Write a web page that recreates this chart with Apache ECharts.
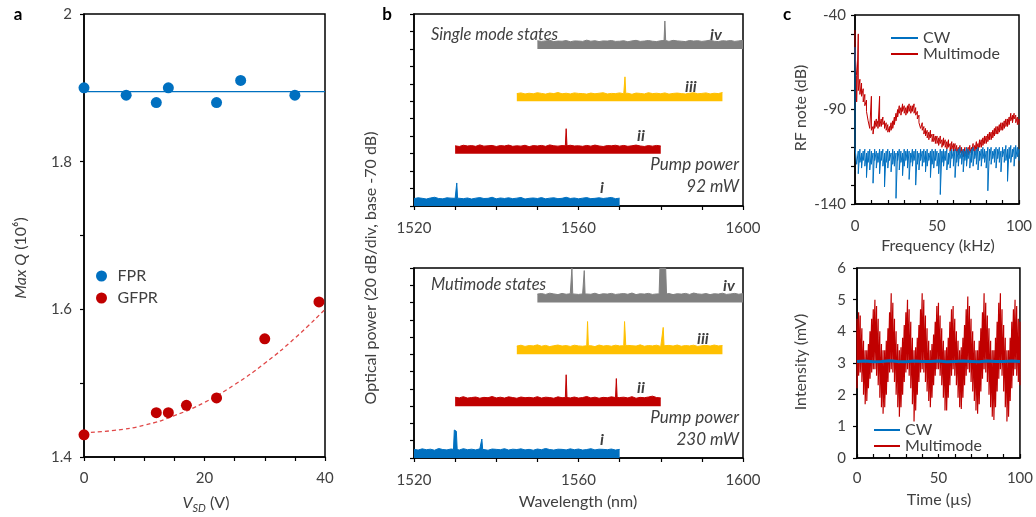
<!DOCTYPE html>
<html><head><meta charset="utf-8">
<script src="https://cdn.jsdelivr.net/npm/echarts@6/dist/echarts.min.js"></script>
<style>html,body{margin:0;padding:0;background:#fff}#c{width:1036px;height:517px}</style>
</head><body><div id="c"></div>
<script>
const FONT = 'Lato, "Noto Sans", sans-serif';
const TXT = '#404040';
// ---------- Panel a ----------
const fprV = [0, 7, 12, 14, 22, 26, 35];
const fprQ = [1.90, 1.89, 1.88, 1.90, 1.88, 1.91, 1.89];
const fprFitV = [0, 40];
const fprFitQ = [1.895, 1.895];
const gfprV = [0, 12, 14, 17, 22, 30, 39];
const gfprQ = [1.43, 1.46, 1.46, 1.47, 1.48, 1.56, 1.61];
const gfprFitV = [0, 5, 10, 15, 20, 25, 30, 35, 40];
const gfprFitQ = [1.433, 1.436, 1.443, 1.456, 1.474, 1.498, 1.527, 1.561, 1.60];

// ---------- Panel b ----------
const specColors = ['#0070C0', '#C00000', '#FFC000', '#808080'];
const specOffsets = [0, 3, 6, 9];
const specRanges = [[1520, 1570], [1530, 1580], [1545, 1595], [1550, 1600]];
const specNames = ['i', 'ii', 'iii', 'iv'];
const smI = [0.42,0.47,0.44,0.40,0.46,0.50,0.43,0.41,0.47,0.45,0.44,0.49,0.42,0.46,0.40,0.45,0.48,0.43,0.44,0.50,0.41,0.46,0.43,0.47,0.42,0.45,0.49,0.40,0.44,0.46,0.43,0.48,0.41,0.45,0.47,0.42,0.44,0.50,0.43,0.46,0.41,0.45,0.48,0.42,0.44,0.47,0.43,0.46,0.49,0.42,0.45];
const smII = [0.45,0.41,0.48,0.44,0.46,0.42,0.50,0.43,0.45,0.47,0.41,0.46,0.44,0.49,0.42,0.45,0.43,0.48,0.40,0.46,0.44,0.47,0.42,0.50,0.45,0.43,0.46,0.41,0.48,0.44,0.45,0.42,0.47,0.43,0.49,0.44,0.41,0.46,0.45,0.48,0.43,0.47,0.42,0.45,0.49,0.44,0.41,0.46,0.43,0.47,0.44];
const smIII = [0.44,0.48,0.42,0.46,0.43,0.49,0.45,0.41,0.47,0.44,0.50,0.43,0.46,0.42,0.48,0.45,0.44,0.41,0.47,0.43,0.46,0.49,0.42,0.45,0.44,0.48,0.43,0.46,0.40,0.47,0.45,0.42,0.49,0.44,0.46,0.43,0.48,0.41,0.45,0.47,0.44,0.42,0.46,0.49,0.43,0.45,0.48,0.42,0.46,0.44,0.50];
const smIV = [0.47,0.43,0.46,0.49,0.42,0.45,0.44,0.48,0.41,0.46,0.45,0.43,0.50,0.44,0.47,0.42,0.46,0.45,0.48,0.43,0.44,0.47,0.41,0.46,0.49,0.43,0.45,0.48,0.44,0.42,0.47,0.45,0.43,0.49,0.46,0.44,0.42,0.48,0.45,0.47,0.43,0.46,0.50,0.44,0.42,0.47,0.45,0.48,0.43,0.46,0.49];
const smPeaks = [
  [[[1530.2,0.45],[1530.4,1.32],[1530.6,0.45]]],
  [[[1556.8,0.45],[1557.0,1.43],[1557.2,0.45]]],
  [[[1571.1,0.45],[1571.3,1.40],[1571.5,0.45]]],
  [[[1580.8,0.48],[1581.0,1.60],[1581.2,0.48]]]
];
const mmI = [0.50,0.46,0.53,0.48,0.51,0.45,0.55,0.49,0.47,0.52,0.50,0.46,0.54,0.48,0.51,0.47,0.53,0.49,0.45,0.52,0.50,0.48,0.54,0.46,0.51,0.49,0.53,0.47,0.50,0.45,0.52,0.48,0.55,0.49,0.46,0.51,0.50,0.47,0.53,0.48,0.52,0.46,0.49,0.54,0.47,0.51,0.50,0.48,0.52,0.46,0.50];
const mmII = [0.52,0.48,0.55,0.47,0.50,0.53,0.46,0.51,0.49,0.56,0.48,0.52,0.47,0.54,0.50,0.46,0.53,0.49,0.51,0.48,0.55,0.47,0.52,0.50,0.46,0.54,0.49,0.51,0.48,0.53,0.47,0.50,0.56,0.48,0.52,0.46,0.51,0.49,0.54,0.47,0.50,0.52,0.48,0.55,0.46,0.51,0.49,0.53,0.58,0.50,0.48];
const mmIII = [0.48,0.53,0.46,0.51,0.49,0.55,0.47,0.52,0.45,0.50,0.54,0.48,0.51,0.46,0.53,0.49,0.47,0.52,0.50,0.45,0.54,0.48,0.51,0.47,0.53,0.49,0.46,0.52,0.50,0.48,0.55,0.47,0.51,0.49,0.53,0.46,0.50,0.52,0.48,0.54,0.47,0.51,0.49,0.53,0.46,0.50,0.52,0.48,0.54,0.49,0.51];
const mmIV = [0.49,0.52,0.47,0.54,0.50,0.46,0.53,0.48,0.51,0.55,0.47,0.50,0.52,0.48,0.54,0.46,0.51,0.49,0.53,0.47,0.50,0.52,0.48,0.55,0.46,0.51,0.49,0.53,0.47,0.50,0.54,0.48,0.52,0.46,0.51,0.49,0.53,0.47,0.55,0.50,0.48,0.52,0.46,0.51,0.49,0.54,0.47,0.50,0.53,0.48,0.52];
const mmPeaks = [
  [[[1529.6,0.5],[1529.8,1.62],[1530.3,1.55],[1530.5,0.5]], [[1536.3,0.5],[1536.5,1.1],[1536.7,0.5]]],
  [[[1556.8,0.5],[1557.0,1.82],[1557.2,0.5]], [[1569.0,0.5],[1569.2,1.6],[1569.4,0.5]]],
  [[[1562.0,0.5],[1562.2,1.9],[1562.4,0.5]], [[1571.0,0.5],[1571.2,1.9],[1571.5,0.5]], [[1580.4,0.5],[1580.6,1.56],[1580.8,0.5]]],
  [[[1558.2,0.5],[1558.4,2.0],[1558.6,0.5]], [[1561.2,0.5],[1561.4,1.85],[1561.6,0.5]], [[1579.6,0.5],[1579.8,2.0],[1581.2,2.0],[1581.4,0.5]]]
];
const smLevels = [smI, smII, smIII, smIV];
const mmLevels = [mmI, mmII, mmIII, mmIV];

// ---------- Panel c: RF spectrum, per 1 kHz bin, max / min of trace ----------
const rfMultiMax = [-48,-72,-50,-74,-76,-79,-82,-85,-90,-95,-83,-99,-96,-95,-96,-83,-95,-94,-96,-97,-98,-99,-97,-96,-94,-92,-90,-88,-89,-87,-88,-89,-88,-87,-88,-88,-87,-89,-91,-93,-96,-97,-99,-100,-101,-102,-101,-103,-103,-104,-104,-105,-104,-106,-105,-106,-107,-106,-108,-107,-108,-108,-109,-110,-109,-110,-111,-110,-111,-110,-109,-110,-108,-109,-107,-108,-106,-106,-105,-104,-104,-103,-102,-102,-101,-100,-99,-99,-98,-97,-97,-96,-95,-95,-94,-92,-93,-92,-93,-94,-95];
const rfMultiMin = [-60,-86,-80,-82,-83,-86,-88,-91,-96,-100,-101,-103,-100,-99,-100,-99,-99,-98,-100,-101,-102,-102,-101,-100,-98,-96,-94,-92,-93,-91,-92,-93,-92,-91,-92,-91,-92,-93,-95,-97,-100,-101,-103,-104,-105,-106,-105,-107,-107,-108,-108,-109,-108,-110,-109,-110,-111,-110,-112,-111,-112,-112,-113,-114,-113,-114,-115,-114,-115,-114,-113,-114,-112,-113,-111,-112,-110,-110,-109,-108,-108,-107,-106,-106,-105,-104,-103,-103,-102,-101,-101,-100,-99,-99,-98,-96,-97,-95,-97,-98,-98];
const rfCWMax = [-57,-110,-112,-111,-113,-112,-111,-113,-112,-111,-112,-113,-111,-112,-113,-111,-112,-111,-113,-112,-111,-112,-113,-111,-112,-113,-112,-111,-112,-113,-111,-112,-111,-112,-113,-111,-112,-111,-112,-113,-111,-112,-111,-112,-111,-113,-112,-111,-112,-111,-112,-113,-111,-112,-111,-112,-111,-113,-112,-111,-112,-111,-112,-111,-110,-112,-111,-112,-110,-111,-112,-111,-110,-112,-111,-110,-112,-111,-110,-111,-112,-110,-111,-110,-112,-111,-110,-111,-110,-112,-110,-111,-109,-111,-110,-109,-111,-110,-109,-110,-111];
const rfCWMin = [-110,-119,-124,-118,-121,-117,-120,-126,-118,-122,-119,-129,-117,-121,-118,-124,-117,-120,-131,-118,-121,-117,-123,-119,-120,-137,-117,-122,-118,-125,-120,-117,-121,-127,-118,-120,-117,-130,-119,-122,-117,-120,-118,-123,-120,-117,-126,-119,-121,-117,-120,-124,-135,-118,-120,-117,-122,-119,-121,-116,-120,-126,-118,-120,-116,-119,-123,-117,-120,-116,-121,-118,-120,-116,-119,-122,-117,-120,-116,-118,-121,-133,-117,-119,-116,-118,-121,-116,-118,-123,-115,-118,-117,-128,-116,-118,-115,-120,-116,-115,-117];
// ---------- Panel c: time trace, per 1 us bin, max / min of fast oscillation ----------
const intUpper = [4.4,4.6,4.5,4.1,3.7,3.4,3.4,3.6,4.0,4.4,4.7,5.0,4.8,4.4,4.0,3.6,3.4,3.4,3.7,4.1,4.6,5.2,4.9,4.4,4.0,3.6,3.4,3.5,3.8,4.2,4.6,5.0,4.7,4.3,3.8,3.4,3.5,3.8,4.2,4.7,5.2,5.0,4.5,4.1,3.7,3.4,3.6,3.9,4.3,4.8,4.9,4.5,4.1,3.7,3.4,3.5,3.8,4.3,4.7,4.8,4.4,4.0,3.7,3.4,3.5,3.8,4.2,4.7,5.1,4.8,4.4,4.0,3.7,3.4,3.4,3.7,4.1,4.6,5.2,4.9,4.5,4.1,3.7,3.4,3.4,3.8,4.3,4.9,5.2,4.7,4.2,3.8,3.4,3.4,3.8,4.3,4.7,5.0,4.8,4.4,4.3];
const intLower = [2.2,2.6,2.7,2.4,2.0,1.7,1.8,2.2,2.5,2.7,2.8,2.8,2.6,2.3,1.9,1.6,1.4,1.6,2.0,2.4,2.7,2.8,2.7,2.4,2.0,1.6,1.3,1.6,2.0,2.4,2.7,2.8,2.6,2.2,1.7,1.15,1.5,2.0,2.4,2.7,2.8,2.7,2.4,2.1,1.8,1.6,1.9,2.3,2.6,2.8,2.8,2.6,2.3,1.9,1.5,1.5,1.9,2.3,2.6,2.8,2.6,2.3,1.9,1.6,1.55,1.9,2.3,2.6,2.8,2.7,2.4,2.1,1.8,1.5,1.4,1.7,2.1,2.5,2.8,2.7,2.4,2.0,1.6,1.3,1.2,1.6,2.1,2.5,2.8,2.6,2.1,1.6,1.15,1.3,1.8,2.2,2.6,2.8,2.6,2.4,2.3];
const intCW = [3.05,3.06,3.04,3.05,3.07,3.05,3.04,3.06,3.05,3.05,3.06,3.04,3.05,3.06,3.05,3.04,3.06,3.05,3.05,3.06,3.05];
const intCWstep = 5;

// ---------- build ----------
function spectrum(range, levels, peaks, offset) {
  const a = range[0], b = range[1], step = (b - a) / (levels.length - 1);
  const pts = [];
  levels.forEach((v, i) => {
    const x = a + i * step;
    if (!peaks.some(p => x >= p[0][0] && x <= p[p.length - 1][0])) pts.push([x, offset + v]);
  });
  peaks.forEach(p => p.forEach(q => pts.push([q[0], offset + q[1]])));
  pts.sort((u, v) => u[0] - v[0]);
  return pts;
}
const zip = (xs, ys) => xs.map((x, i) => [x, ys[i]]);
function zigzag(maxs, mins) { const out = []; maxs.forEach((m, i) => { out.push([i, m]); out.push([i, mins[i]]); }); return out; }

const series = [];
series.push({name:'FPR fit', type:'line', xAxisIndex:0, yAxisIndex:0, data: zip(fprFitV, fprFitQ), symbol:'none', lineStyle:{color:'#0070C0', width:1.2}, z:2});
series.push({name:'GFPR fit', type:'line', xAxisIndex:0, yAxisIndex:0, data: zip(gfprFitV, gfprFitQ), symbol:'none', smooth:true, lineStyle:{color:'#E04848', width:1.3, type:[4,3]}, z:2});
series.push({name:'FPR', type:'scatter', xAxisIndex:0, yAxisIndex:0, data: zip(fprV, fprQ), symbolSize:11, itemStyle:{color:'#0070C0', opacity:1}, z:3});
series.push({name:'GFPR', type:'scatter', xAxisIndex:0, yAxisIndex:0, data: zip(gfprV, gfprQ), symbolSize:11, itemStyle:{color:'#C00000', opacity:1}, z:3});

[[smLevels, smPeaks, 1], [mmLevels, mmPeaks, 2]].forEach(([lv, pk, ax]) => {
  for (let k = 0; k < 4; k++) {
    series.push({name: 'spec' + ax + specNames[k], type:'line', xAxisIndex:ax, yAxisIndex:ax,
      data: spectrum(specRanges[k], lv[k], pk[k], specOffsets[k]), symbol:'none',
      lineStyle:{color:specColors[k], width:1}, areaStyle:{color:specColors[k], opacity:1, origin:specOffsets[k]}, z:2});
  }
});

series.push({name:'Multimode', type:'line', xAxisIndex:3, yAxisIndex:3, data: zigzag(rfMultiMax, rfMultiMin), symbol:'none', color:'#C00000', lineStyle:{color:'#C00000', width:1}, z:2});
series.push({name:'CW', type:'line', xAxisIndex:3, yAxisIndex:3, data: zigzag(rfCWMax, rfCWMin), symbol:'none', color:'#0070C0', lineStyle:{color:'#0070C0', width:1}, z:3});
series.push({name:'Multimode', type:'line', xAxisIndex:4, yAxisIndex:4, data: zigzag(intUpper, intLower), symbol:'none', color:'#C00000', lineStyle:{color:'#C00000', width:1.2}, z:2});
series.push({name:'CW', type:'line', xAxisIndex:4, yAxisIndex:4, data: intCW.map((v, i) => [i * intCWstep, v]), symbol:'none', color:'#0070C0', lineStyle:{color:'#0070C0', width:3}, z:3});

const axLine = {show:true, lineStyle:{color:'#000', width:1.5}};
const lab = (m, f) => ({color:TXT, fontSize:15, fontFamily:FONT, margin:m, formatter:f, showMinLabel:true, showMaxLabel:true});
const tick = (inside) => ({show:true, inside:inside, length:4, lineStyle:{color:'#000', width:1.2}});
const gridBase = {show:true, borderColor:'#000', borderWidth:1.5, backgroundColor:'transparent', containLabel:false};

const option = {
  animation:false,
  textStyle:{fontFamily:FONT},
  grid:[
    Object.assign({left:84, top:14, width:241, height:443}, gridBase),
    Object.assign({left:414, top:14, width:329, height:192}, gridBase),
    Object.assign({left:414, top:268, width:329, height:190}, gridBase),
    Object.assign({left:855, top:15, width:164, height:189}, gridBase),
    Object.assign({left:857, top:268, width:163, height:190}, gridBase)
  ],
  xAxis:[
    {gridIndex:0, type:'value', min:0, max:40, interval:5, axisLine:axLine, axisTick:tick(false), splitLine:{show:false}, axisLabel:lab(14, v => v % 20 === 0 ? v : '')},
    {gridIndex:1, type:'value', min:1520, max:1600, interval:10, axisLine:axLine, axisTick:tick(false), splitLine:{show:false}, axisLabel:lab(15, v => v % 40 === 0 ? v : '')},
    {gridIndex:2, type:'value', min:1520, max:1600, interval:10, axisLine:axLine, axisTick:tick(false), splitLine:{show:false}, axisLabel:lab(15, v => v % 40 === 0 ? v : '')},
    {gridIndex:3, type:'value', min:0, max:100, interval:10, axisLine:axLine, axisTick:tick(true), splitLine:{show:false}, axisLabel:lab(15, v => v % 50 === 0 ? v : '')},
    {gridIndex:4, type:'value', min:0, max:100, interval:10, axisLine:axLine, axisTick:tick(true), splitLine:{show:false}, axisLabel:lab(13, v => v % 50 === 0 ? v : '')}
  ],
  yAxis:[
    {gridIndex:0, type:'value', min:1.4, max:2, interval:0.1, axisLine:axLine, axisTick:tick(false), splitLine:{show:false}, axisLabel:lab(12, v => { const r = Math.round(v * 10); return r % 2 === 0 ? String(r / 10) : ''; })},
    {gridIndex:1, type:'value', min:0, max:11, interval:1, axisLine:axLine, axisTick:tick(false), splitLine:{show:false}, axisLabel:{show:false}},
    {gridIndex:2, type:'value', min:0, max:11, interval:1, axisLine:axLine, axisTick:tick(false), splitLine:{show:false}, axisLabel:{show:false}},
    {gridIndex:3, type:'value', min:-140, max:-40, interval:10, axisLine:axLine, axisTick:tick(false), splitLine:{show:false}, axisLabel:lab(9, v => (v + 140) % 50 === 0 ? v : '')},
    {gridIndex:4, type:'value', min:0, max:6, interval:1, axisLine:axLine, axisTick:tick(false), splitLine:{show:false}, axisLabel:lab(11)}
  ],
  legend:[
    {data:['FPR','GFPR'], orient:'vertical', left:91, top:263, icon:'circle', itemWidth:22, itemHeight:11, itemGap:6, selectedMode:false, textStyle:{fontSize:16, color:TXT, fontFamily:FONT}},
    {data:['CW','Multimode'], orient:'vertical', left:886, top:25, icon:'rect', itemWidth:27, itemHeight:2, itemGap:0, selectedMode:false, textStyle:{fontSize:16, color:TXT, fontFamily:FONT}},
    {data:['CW','Multimode'], orient:'vertical', left:869, top:417, icon:'rect', itemWidth:26, itemHeight:2, itemGap:0, selectedMode:false, textStyle:{fontSize:16, color:TXT, fontFamily:FONT}}
  ],
  series: series,
  graphic: []
};

function T(x, y, text, o) {
  o = o || {};
  return {type:'text', x:x, y:y, rotation:o.rot || 0, z:10, silent:true,
    style:Object.assign({text:text, fill:o.fill || TXT, font:(o.font || '16px') + ' ' + FONT, align:o.align || 'center', verticalAlign:'middle'}, o.extra || {})};
}
const g = option.graphic;
g.push(T(18, 15, 'a', {font:'bold 17px', fill:'#000'}));
g.push(T(387, 15, 'b', {font:'bold 17px', fill:'#000'}));
g.push(T(787, 15, 'c', {font:'bold 17px', fill:'#000'}));
g.push(T(21, 258, '{i|Max Q} (10⁶)', {rot:Math.PI / 2, extra:{rich:{i:{fontStyle:'italic', fontSize:16, fontFamily:FONT, fill:TXT}}}}));
g.push(T(206, 503, '{i|V}{s|SD}{n| (V)}', {extra:{rich:{i:{fontStyle:'italic', fontSize:16, fontFamily:FONT, fill:TXT, lineHeight:22}, s:{fontStyle:'italic', fontSize:11, fontFamily:FONT, fill:TXT, lineHeight:12, verticalAlign:'bottom'}, n:{fontSize:16, fontFamily:FONT, fill:TXT, lineHeight:22}}}}));
g.push(T(371, 268, 'Optical power (20 dB/div, base -70 dB)', {rot:Math.PI / 2}));
g.push(T(578, 502, 'Wavelength (nm)'));
g.push(T(801, 108, 'RF note (dB)', {rot:Math.PI / 2}));
g.push(T(938, 246, 'Frequency (kHz)'));
g.push(T(801, 362, 'Intensity (mV)', {rot:Math.PI / 2}));
g.push(T(939, 500, 'Time (µs)'));
g.push(T(431, 35, 'Single mode states', {font:'italic 16.5px', align:'left'}));
g.push(T(431, 285, 'Mutimode states', {font:'italic 16.5px', align:'left'}));
g.push(T(739, 165, 'Pump power', {font:'italic 17px', align:'right'}));
g.push(T(739, 187, '92 mW', {font:'italic 17px', align:'right'}));
g.push(T(739, 418, 'Pump power', {font:'italic 17px', align:'right'}));
g.push(T(739, 440, '230 mW', {font:'italic 17px', align:'right'}));
const rom = [['iv', 710, 35], ['iii', 685, 87], ['ii', 637, 136], ['i', 600, 188],
             ['iv', 723, 286], ['iii', 697, 339], ['ii', 637, 388], ['i', 600, 440]];
rom.forEach(r => g.push(T(r[1], r[2], r[0], {font:'italic bold 16px', align:'left'})));

const chart = echarts.init(document.getElementById('c'), null, {renderer:'canvas'});
chart.setOption(option);
</script></body></html>
